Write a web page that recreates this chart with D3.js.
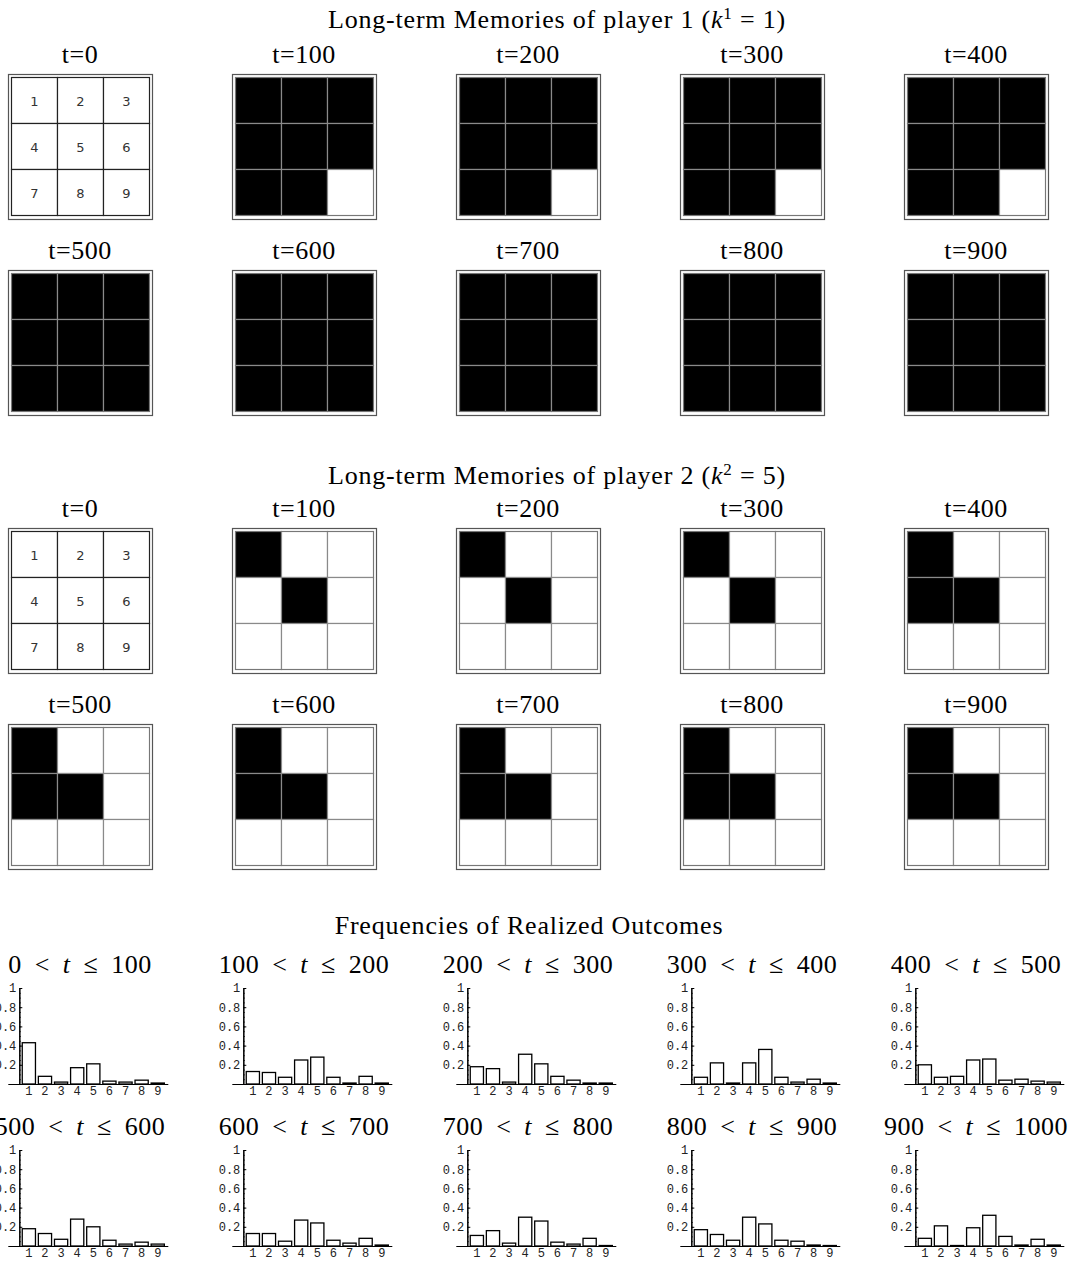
<!DOCTYPE html>
<html>
<head>
<meta charset="utf-8">
<script src="https://cdn.jsdelivr.net/npm/d3@7"></script>
<style>
  body { margin: 0; background: #fff; }
  text { fill: #000; }
</style>
</head>
<body>
<script>
// snapshots of the long-term memories (cells shown black)
var gridTimes = [0, 100, 200, 300, 400, 500, 600, 700, 800, 900]
var p1Black = [
  [],
  [1, 2, 3, 4, 5, 6, 7, 8],
  [1, 2, 3, 4, 5, 6, 7, 8],
  [1, 2, 3, 4, 5, 6, 7, 8],
  [1, 2, 3, 4, 5, 6, 7, 8],
  [1, 2, 3, 4, 5, 6, 7, 8, 9],
  [1, 2, 3, 4, 5, 6, 7, 8, 9],
  [1, 2, 3, 4, 5, 6, 7, 8, 9],
  [1, 2, 3, 4, 5, 6, 7, 8, 9],
  [1, 2, 3, 4, 5, 6, 7, 8, 9]
]
var p2Black = [
  [],
  [1, 5],
  [1, 5],
  [1, 5],
  [1, 4, 5],
  [1, 4, 5],
  [1, 4, 5],
  [1, 4, 5],
  [1, 4, 5],
  [1, 4, 5]
]
var cells = [1, 2, 3, 4, 5, 6, 7, 8, 9]

// frequencies of realized outcomes per 100-step window
var periodLow = [0, 100, 200, 300, 400, 500, 600, 700, 800, 900]
var periodHigh = [100, 200, 300, 400, 500, 600, 700, 800, 900, 1000]
var outcomes = [1, 2, 3, 4, 5, 6, 7, 8, 9]
var freqs = [
  [0.43, 0.08, 0.02, 0.17, 0.21, 0.03, 0.02, 0.04, 0.01],
  [0.13, 0.12, 0.07, 0.25, 0.28, 0.07, 0.01, 0.08, 0.01],
  [0.18, 0.16, 0.02, 0.31, 0.21, 0.08, 0.04, 0.01, 0.01],
  [0.07, 0.22, 0.01, 0.22, 0.36, 0.07, 0.02, 0.05, 0.01],
  [0.20, 0.07, 0.08, 0.25, 0.26, 0.04, 0.05, 0.03, 0.02],
  [0.18, 0.13, 0.07, 0.28, 0.20, 0.06, 0.02, 0.04, 0.02],
  [0.13, 0.13, 0.05, 0.27, 0.24, 0.06, 0.03, 0.08, 0.01],
  [0.11, 0.16, 0.03, 0.30, 0.26, 0.04, 0.02, 0.08, 0.005],
  [0.17, 0.12, 0.06, 0.30, 0.23, 0.06, 0.05, 0.01, 0.005],
  [0.08, 0.21, 0.005, 0.19, 0.32, 0.10, 0.01, 0.07, 0.01]
]
var yTicks = [0.2, 0.4, 0.6, 0.8, 1]

var serif = "'Liberation Serif', 'DejaVu Serif', serif"
var mono = "'Liberation Mono', 'DejaVu Sans Mono', monospace"

var svg = d3.select("body").append("svg")
  .attr("width", 1077)
  .attr("height", 1261)

// panel columns, 224px apart
var colScale = d3.scaleBand().domain(d3.range(5)).range([8, 8 + 224 * 5])

function title(y, x, parts) {
  var t = svg.append("text")
    .attr("x", x).attr("y", y)
    .attr("text-anchor", "middle")
    .style("font-family", serif)
    .style("font-size", "26px")
    .style("letter-spacing", "0.8px")
  parts.forEach(p => {
    var s = t.append("tspan").text(p.t)
    if (p.i) s.style("font-style", "italic")
    if (p.sup) s.attr("baseline-shift", "super").style("font-size", "17px")
  })
}

function drawGrid(x0, y0, black, numbered) {
  var g = svg.append("g").attr("transform", `translate(${x0},${y0})`)
  var cs = d3.scaleBand().domain([0, 1, 2]).range([3.5, 141.5])
  var lineCol = numbered ? "#222" : "#8a8a8a"

  g.append("rect")
    .attr("x", 0.5).attr("y", 0.5)
    .attr("width", 144).attr("height", 145)
    .attr("fill", "none")
    .attr("stroke", "#555").attr("stroke-width", 1.2)

  g.selectAll("rect.cell")
    .data(cells)
    .enter()
    .append("rect")
    .attr("class", "cell")
    .attr("x", d => cs((d - 1) % 3))
    .attr("y", d => cs(Math.floor((d - 1) / 3)))
    .attr("width", cs.bandwidth())
    .attr("height", cs.bandwidth())
    .attr("fill", d => black.indexOf(d) >= 0 ? "#000" : "#fff")
    .attr("stroke", lineCol)
    .attr("stroke-width", 1.2)

  g.append("rect")
    .attr("x", 3.5).attr("y", 3.5)
    .attr("width", 138).attr("height", 138)
    .attr("fill", "none")
    .attr("stroke", numbered ? "#222" : "#777").attr("stroke-width", 1)

  if (numbered) {
    g.selectAll("text.num")
      .data(cells)
      .enter()
      .append("text")
      .attr("class", "num")
      .attr("x", d => cs((d - 1) % 3) + cs.bandwidth() / 2)
      .attr("y", d => cs(Math.floor((d - 1) / 3)) + cs.bandwidth() / 2 + 5)
      .attr("text-anchor", "middle")
      .style("font-family", "'DejaVu Sans', sans-serif")
      .style("font-size", "13px")
      .style("fill", "#333")
      .text(d => d)
  }
}

function drawMemories(blackList, gridTops) {
  gridTimes.forEach((t, i) => {
    var row = Math.floor(i / 5), col = i % 5
    var x0 = colScale(col), y0 = gridTops[row]
    svg.append("text")
      .attr("x", x0 + 72).attr("y", y0 - 11)
      .attr("text-anchor", "middle")
      .style("font-family", serif)
      .style("font-size", "26px")
      .style("letter-spacing", "0.5px")
      .text("t=" + t)
    drawGrid(x0, y0, blackList[i], i == 0)
  })
}

title(28, 557, [{t: "Long-term Memories of player 1 ("}, {t: "k", i: true}, {t: "1", sup: true}, {t: " = 1)"}])
drawMemories(p1Black, [74, 270])

title(484, 557, [{t: "Long-term Memories of player 2 ("}, {t: "k", i: true}, {t: "2", sup: true}, {t: " = 5)"}])
drawMemories(p2Black, [528, 724])

title(934, 529, [{t: "Frequencies of Realized Outcomes"}])

function drawBars(i) {
  var row = Math.floor(i / 5), col = i % 5
  var ax = colScale(col) + 11.3
  var base = row == 0 ? 1084 : 1246
  var data = freqs[i]

  svg.append("text")
    .attr("x", colScale(col) + 72).attr("y", base - 111)
    .attr("text-anchor", "middle")
    .style("font-family", serif)
    .style("font-size", "26px")
    .style("word-spacing", "6px")
    .style("letter-spacing", "0.5px")
    .call(t => {
      t.append("tspan").text(periodLow[i] + " < ")
      t.append("tspan").style("font-style", "italic").text("t")
      t.append("tspan").text(" ≤ " + periodHigh[i])
    })

  var xScale = d3.scaleBand()
    .domain(outcomes)
    .range([ax + 1.5, ax + 146.5])
    .paddingInner(0.18)
    .paddingOuter(0.09)

  var yScale = d3.scaleLinear()
    .domain([0, 1])
    .range([base, base - 96])

  var g = svg.append("g")

  g.selectAll("rect")
    .data(data)
    .enter()
    .append("rect")
    .attr("x", (d, j) => xScale(outcomes[j]))
    .attr("y", d => yScale(d))
    .attr("width", xScale.bandwidth())
    .attr("height", d => yScale(0) - yScale(d))
    .attr("fill", "#fff")
    .attr("stroke", "#000")
    .attr("stroke-width", 1.3)

  // x axis line runs a bit past the y axis
  g.append("line")
    .attr("x1", ax - 11).attr("x2", ax + 149)
    .attr("y1", base + 0.5).attr("y2", base + 0.5)
    .attr("stroke", "#000").attr("stroke-width", 1.2)

  g.selectAll("text.xl")
    .data(outcomes)
    .enter()
    .append("text")
    .attr("class", "xl")
    .attr("x", d => xScale(d) + xScale.bandwidth() / 2)
    .attr("y", base + 11)
    .attr("text-anchor", "middle")
    .style("font-family", mono)
    .style("font-size", "12px")
    .style("fill", "#222")
    .text(d => d)

  // minor ticks
  var minor = g.append("g")
    .attr("transform", `translate(${ax},0)`)
    .call(d3.axisLeft(yScale).tickValues(d3.range(0.05, 1.001, 0.05)).tickSizeInner(-1.5).tickSizeOuter(0).tickFormat(""))
  minor.selectAll("line").attr("stroke", "#222")

  var yAxis = g.append("g")
    .attr("transform", `translate(${ax},0)`)
    .call(d3.axisLeft(yScale).tickValues(yTicks).tickSizeInner(-3).tickSizeOuter(0).tickPadding(3)
      .tickFormat(d => d == 1 ? "1" : d3.format(".1f")(d)))
  yAxis.select(".domain").attr("stroke", "#000").attr("stroke-width", 1.2)
  yAxis.selectAll("text")
    .style("font-family", mono)
    .style("font-size", "12px")
    .style("fill", "#222")
}

freqs.forEach((d, i) => drawBars(i))
</script>
</body>
</html>
